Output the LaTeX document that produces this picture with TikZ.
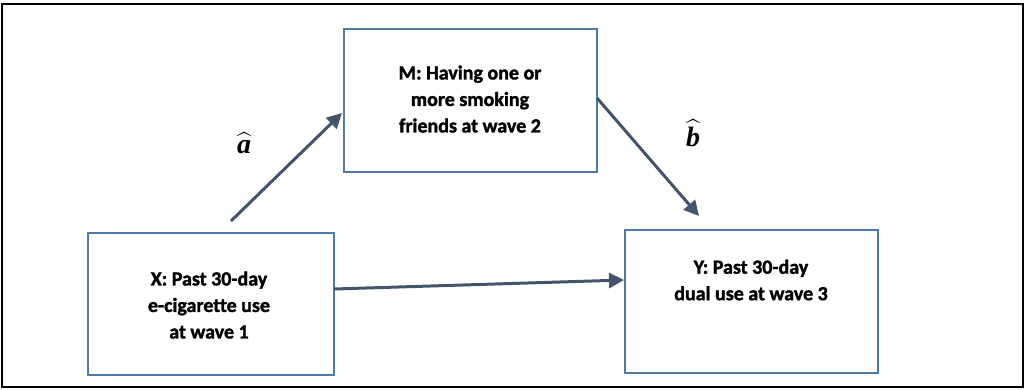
\documentclass[tikz,border=0pt]{standalone}
\usepackage{amsmath}
\usepackage{fontspec}
\setmainfont[Ligatures=NoCommon, BoldFeatures={FakeBold=1.6}]{Carlito}
\newfontfamily\lserif{Liberation Serif}
\usetikzlibrary{arrows.meta}
\definecolor{boxblue}{HTML}{4E79A7}
\definecolor{arrowslate}{HTML}{44546A}
\tikzset{
  x=1pt, y=-1pt,
  varbox/.style={draw=boxblue, line width=2pt, inner sep=0pt, align=center,
    font=\fontsize{20}{26.5}\selectfont\bfseries},
  patharrow/.style={draw=arrowslate, line width=3pt,
    -{Triangle[length=15pt,width=15pt]}},
  coeflabel/.style={font=\fontsize{28}{32}\selectfont, inner sep=0pt}
}
\begin{document}
\begin{tikzpicture}
\useasboundingbox (0,0) rectangle (1025,389);
\draw[black, line width=2pt] (2,4) rectangle (1023,387);
% boxes
\node[varbox, minimum width=253pt, minimum height=143pt, anchor=north west] (M) at (343,28) {};
\node[varbox, minimum width=246pt, minimum height=142pt, anchor=north west] (X) at (87,232) {};
\node[varbox, minimum width=253pt, minimum height=143pt, anchor=north west] (Y) at (624,229) {};
% texts
\node[varbox, draw=none, anchor=center] (Mt) at (470,99) {M: Having one or\\more smoking\\friends at wave 2};
\node[varbox, draw=none, anchor=center] (Xt) at (209,305) {X: Past 30-day\\e-cigarette use\\at wave 1};
\node[varbox, draw=none, anchor=center] (Yt) at (751,280) {Y: Past 30-day\\dual use at wave 3};
% arrow endpoints
\coordinate (aStart) at (231,221);
\coordinate (aEnd) at (342,113);
\coordinate (bStart) at (597,98);
\coordinate (bEnd) at (699,216);
\coordinate (cStart) at (334,289);
\coordinate (cEnd) at (624,280);
\draw[patharrow] (aStart) -- (aEnd);
\draw[patharrow] (bStart) -- (bEnd);
\draw[patharrow] (cStart) -- (cEnd);
% labels
\node[coeflabel] (la) at (244,143) {$\widehat{\text{\lserif\bfseries\itshape a}}$};
\node[coeflabel] (lb) at (693,133) {$\widehat{\text{\lserif\bfseries\itshape b}}$};
\end{tikzpicture}
\end{document}
